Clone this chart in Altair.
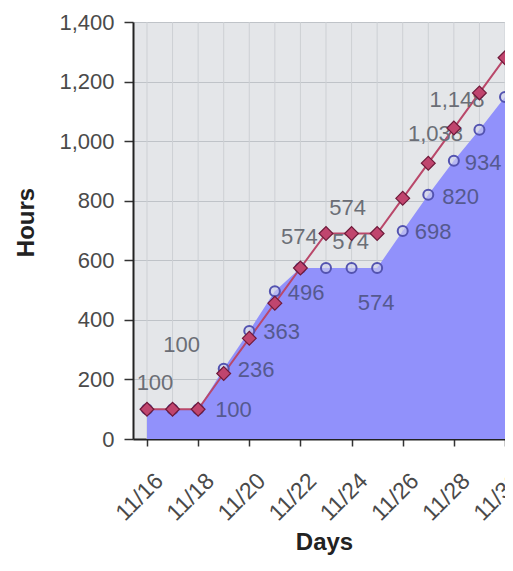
import altair as alt
import pandas as pd

# ---- data ----
days = list(range(16, 31))  # November 16 .. 30
planned = [100, 100, 100, 220, 338, 456, 574, 690, 690, 690, 808, 926, 1044, 1162, 1280]
actual = [100, 100, 100, 236, 363, 496, 574, 574, 574, 574, 698, 820, 934, 1038, 1148]
x_tick_days = [16, 18, 20, 22, 24, 26, 28, 30]
y_ticks = [0, 200, 400, 600, 800, 1000, 1200, 1400]

df = pd.DataFrame({"day": days, "planned": planned, "actual": actual})

FONT = "Liberation Sans"
GRAY_TXT = "#6b6e76"
BLUE_TXT = "#55598f"

x_enc = alt.X(
    "day:Q",
    scale=alt.Scale(domain=[15.453, 30], nice=False, zero=False),
    axis=alt.Axis(
        values=x_tick_days,
        labelExpr="'11/' + datum.value",
        labelAngle=-45,
        labelAlign="right",
        labelBaseline="middle",
        labelOffset=12,
        labelPadding=31,
        labelFontSize=23,
        labelFont=FONT,
        labelColor="#4a4a4a",
        labelFlush=False,
        labelOverlap=False,
        tickSize=7,
        tickColor="#333",
        tickWidth=1.5,
        domainColor="#222",
        domainWidth=2,
        grid=False,
        title="Days",
        titleFont=FONT,
        titleFontSize=24,
        titleFontWeight="bold",
        titleColor="#222",
        titleX=191,
        titleY=110,
        titleAlign="center",
        titleBaseline="alphabetic",
    ),
)


def y_enc(field):
    return alt.Y(
        f"{field}:Q",
        scale=alt.Scale(domain=[0, 1400], nice=False),
        axis=alt.Axis(
            values=y_ticks,
            format=",.0f",
            labelFontSize=22,
            labelFont=FONT,
            labelColor="#4a4a4a",
            labelPadding=10,
            labelFlush=False,
            labelOverlap=False,
            tickSize=9,
            tickColor="#333",
            tickWidth=1.5,
            domainColor="#222",
            domainWidth=2,
            grid=True,
            gridColor="#bfc3c8",
            gridWidth=1,
            title="Hours",
            titleFont=FONT,
            titleFontSize=24,
            titleFontWeight="bold",
            titleColor="#222",
            titleX=-107,
            titleY=200,
            titleAlign="center",
            titleBaseline="middle",
        ),
    )


base = alt.Chart(df)

vgrid = base.mark_rule(color="#cdd0d4", strokeWidth=1).encode(x=x_enc)
area = base.mark_area(color="#9191fb", opacity=1).encode(x=x_enc, y=y_enc("actual"))
line = base.mark_line(color="#b9486a", strokeWidth=2).encode(x=x_enc, y=y_enc("planned"))

# (day, align, dx, dy, colour)
label_specs = [
    (16, "center", 8, -26, GRAY_TXT),
    (17, "center", 9, -64, GRAY_TXT),
    (22, "center", -1, -31, GRAY_TXT),
    (24, "center", -4, -60, GRAY_TXT),
    (24, "center", -1, -26, GRAY_TXT),
    (29, "center", -44, 4, GRAY_TXT),
    (30, "center", -48, 3, GRAY_TXT),
    (18, "left", 17, 1, BLUE_TXT),
    (19, "left", 14, 1, BLUE_TXT),
    (20, "left", 14, 1, BLUE_TXT),
    (21, "left", 13, 2, BLUE_TXT),
    (25, "center", -1, 35, BLUE_TXT),
    (26, "left", 12, 1, BLUE_TXT),
    (27, "left", 14, 2, BLUE_TXT),
    (28, "left", 11, 2, BLUE_TXT),
]

texts = []
for d, al, dx, dy, col in label_specs:
    texts.append(
        base.transform_filter(alt.datum.day == d)
        .mark_text(align=al, baseline="middle", dx=dx, dy=dy, fontSize=22, font=FONT, color=col)
        .encode(x=x_enc, y=y_enc("actual"), text=alt.Text("actual:Q", format=","))
    )

circles = base.mark_point(
    shape="circle", size=100, filled=False, stroke="#5353b0", strokeWidth=2, fill="#cfd0ee", fillOpacity=0.6
).encode(x=x_enc, y=y_enc("actual"))

diamonds = base.mark_point(
    shape="diamond", size=190, filled=True, color="#c0456e", stroke="#6e1a3a", strokeWidth=1.2, opacity=1
).encode(x=x_enc, y=y_enc("planned"))

chart = (
    alt.layer(vgrid, area, line, *texts, circles, diamonds)
    .properties(
        width=372,
        height=417,
        autosize=alt.AutoSizeParams(type="none"),
        padding={"left": 125, "top": 14, "right": 0, "bottom": 118},
    )
    .configure_view(fill="#e4e6e9", strokeWidth=0)
)

chart.save("out.html", embed_options={"renderer": "svg", "actions": False})
